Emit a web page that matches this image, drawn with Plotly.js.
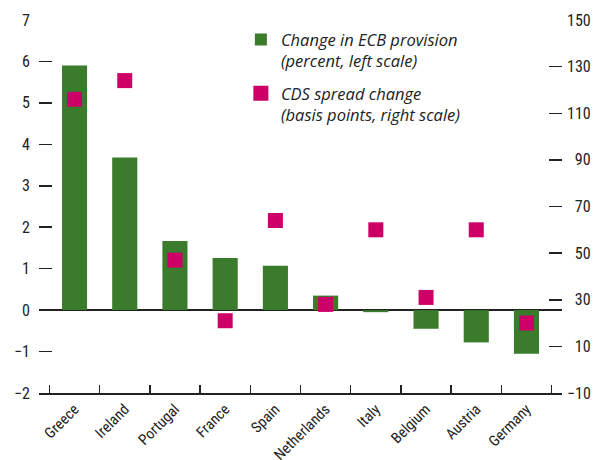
<!DOCTYPE html>
<html><head><meta charset="utf-8">
<script src="https://cdn.plot.ly/plotly-3.0.1.min.js"></script>
<style>body{margin:0;background:#fff}#c{width:593px;height:460px}</style>
</head><body><div id="c"></div>
<script>
const countries = ["Greece","Ireland","Portugal","France","Spain","Netherlands","Italy","Belgium","Austria","Germany"];
const ecbProvision = [5.9, 3.68, 1.67, 1.26, 1.07, 0.35, -0.05, -0.45, -0.78, -1.05];
const cdsChange = [116, 124, 47, 21, 64, 28, 60, 31, 60, 20];
const rightTickVals = [-10, 10, 30, 50, 70, 90, 110, 130, 150];
const rightTickText = ["\u221210", "\u200710", "\u200730", "\u200750", "\u200770", "\u200790", "110", "130", "150"];

const FONT = "Roboto Condensed, Arial Narrow, Roboto, sans-serif";
const LFONT = "Open Sans, sans-serif";
const green = "#3a7b2c", pink = "#cc0066";

const traces = [
  {type: "bar", x: countries, y: ecbProvision, name: "Change in ECB provision<br>(percent, left scale)",
   legendgroup: "ecb", marker: {color: green}, width: 0.5, yaxis: "y"},
  {type: "scatter", mode: "markers", x: countries, y: cdsChange, name: "CDS spread change<br>(basis points, right scale)",
   legendgroup: "cds", marker: {color: pink, symbol: "square", size: 15}, yaxis: "y2"}
];

const layout = {
  width: 593, height: 460,
  margin: {l: 39, r: 31, t: 20, b: 67},
  paper_bgcolor: "#fff", plot_bgcolor: "#fff",
  font: {family: FONT, size: 16, color: "#222"},
  showlegend: true,
  legend: {x: 0.386, y: 0.994, xanchor: "left", yanchor: "top", valign: "top",
           traceorder: "grouped",
           font: {family: LFONT, size: 16.5, style: "italic", color: "#222"},
           tracegroupgap: 8, bgcolor: "rgba(0,0,0,0)"},
  xaxis: {type: "category", showline: true, linecolor: "#222", linewidth: 1.5,
          ticks: "inside", tickson: "boundaries", ticklen: 8, tickcolor: "#222", tickwidth: 1.5,
          tickangle: -45, showgrid: false, zeroline: false, fixedrange: true,
          tickfont: {family: FONT, size: 15, color: "#222"}},
  yaxis: {range: [-2, 7], dtick: 1, tick0: 0, ticks: "inside", ticklen: 13, tickcolor: "#222", tickwidth: 1.5,
          showline: false, showgrid: false, zeroline: true, zerolinecolor: "#222", zerolinewidth: 1.5,
          ticklabelstandoff: 8, tickfont: {family: FONT, size: 16, color: "#222"}},
  yaxis2: {range: [-10, 150], overlaying: "y", side: "right", tickmode: "array",
           tickvals: rightTickVals, ticktext: rightTickText,
           ticks: "inside", ticklen: 13, tickcolor: "#222", tickwidth: 1.5,
           showline: false, showgrid: false, zeroline: false, ticklabelstandoff: 4,
           tickfont: {family: FONT, size: 16, color: "#222"}}
};

Plotly.newPlot("c", traces, layout, {displayModeBar: false, staticPlot: true});
</script></body></html>
